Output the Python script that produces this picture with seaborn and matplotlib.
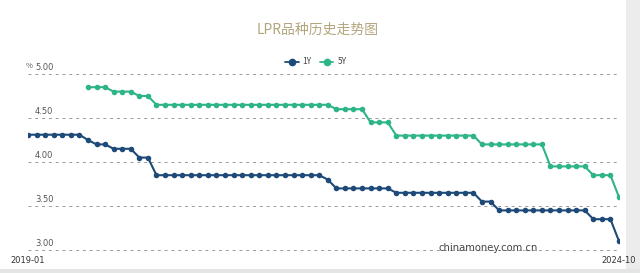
import matplotlib
matplotlib.use("Agg")
import matplotlib.pyplot as plt
import seaborn as sns
import pandas as pd
from matplotlib.patches import Rectangle
from matplotlib.lines import Line2D

sns.set_theme(style="white")
plt.rcParams['font.family'] = ['Noto Sans CJK SC', 'DejaVu Sans']

months = [f"{y}-{m:02d}" for y in range(2019, 2025) for m in range(1, 13)][:70]

lpr_1y = [4.31, 4.31, 4.31, 4.31, 4.31, 4.31, 4.31,
          4.25, 4.20, 4.20, 4.15, 4.15, 4.15, 4.05, 4.05,
          3.85, 3.85, 3.85, 3.85, 3.85, 3.85, 3.85, 3.85, 3.85, 3.85,
          3.85, 3.85, 3.85, 3.85, 3.85, 3.85, 3.85, 3.85, 3.85, 3.85,
          3.80,
          3.70, 3.70, 3.70, 3.70, 3.70, 3.70, 3.70,
          3.65, 3.65, 3.65, 3.65, 3.65, 3.65, 3.65, 3.65, 3.65, 3.65,
          3.55, 3.55,
          3.45, 3.45, 3.45, 3.45, 3.45, 3.45, 3.45, 3.45, 3.45, 3.45, 3.45,
          3.35, 3.35, 3.35,
          3.10]

lpr_5y = [None, None, None, None, None, None, None,
          4.85, 4.85, 4.85, 4.80, 4.80, 4.80, 4.75, 4.75,
          4.65, 4.65, 4.65, 4.65, 4.65, 4.65, 4.65, 4.65, 4.65, 4.65, 4.65,
          4.65, 4.65, 4.65, 4.65, 4.65, 4.65, 4.65, 4.65, 4.65, 4.65,
          4.60, 4.60, 4.60, 4.60,
          4.45, 4.45, 4.45,
          4.30, 4.30, 4.30, 4.30, 4.30, 4.30, 4.30, 4.30, 4.30, 4.30,
          4.20, 4.20, 4.20, 4.20, 4.20, 4.20, 4.20, 4.20,
          3.95, 3.95, 3.95, 3.95, 3.95,
          3.85, 3.85, 3.85,
          3.60]

series_names = ["1Y", "5Y"]
colors = {"1Y": "#1d4a78", "5Y": "#2db488"}
y_ticks = [3.00, 3.50, 4.00, 4.50, 5.00]
x_tick_labels = ["2019-01", "2024-10"]
title = "LPR品种历史走势图"

rows = []
for i, m in enumerate(months):
    rows.append({"idx": i, "month": m, "series": "1Y", "value": lpr_1y[i]})
    rows.append({"idx": i, "month": m, "series": "5Y", "value": lpr_5y[i]})
df = pd.DataFrame(rows).dropna(subset=["value"])

fig = plt.figure(figsize=(6.4, 2.73), dpi=100)
fig.patch.set_facecolor("white")
ax = fig.add_axes([28 / 640, (273 - 250) / 273, 591 / 640, (250 - 74) / 273])
ax.set_facecolor("none")

for yv in y_ticks:
    ax.axhline(yv, color="#9a9a9a", lw=0.7, ls=(0, (3, 4)), zorder=0, clip_on=False)

sns.lineplot(data=df, x="idx", y="value", hue="series", hue_order=series_names,
             palette=colors, marker="o", markersize=4.0, markeredgewidth=0,
             linewidth=1.5, ax=ax, legend=False)

ax.set_xlim(0, len(months) - 1)
ax.set_ylim(3.00, 5.00)
ax.set_yticks([])
ax.set_xticks([0, len(months) - 1])
ax.set_xticklabels(x_tick_labels, fontsize=6, color="#333333")
ax.tick_params(axis="x", length=0, pad=4)
ax.set_xlabel("")
ax.set_ylabel("")
for s in ax.spines.values():
    s.set_visible(False)
for lab in ax.get_xticklabels():
    lab.set_family(['DejaVu Sans'])

for yv in y_ticks:
    ax.text(7 / 591, yv + 0.02, f"{yv:.2f}", transform=ax.get_yaxis_transform(),
            fontsize=6, color="#555555", va="bottom", ha="left", family=['DejaVu Sans'])
fig.text(26 / 640, 1 - 66 / 273, "%", fontsize=5.5, color="#555555", ha="left", va="center")

fig.text(318 / 640, 1 - 30 / 273, title, fontsize=10, color="#b3a57c", ha="center", va="center")

handles = [Line2D([], [], color=colors[s], marker="o", markersize=4.5, lw=1.3) for s in series_names]
fig.legend(handles, series_names, loc="center", bbox_to_anchor=(316 / 640, 1 - 62 / 273),
           ncol=2, frameon=False, fontsize=6, handlelength=1.6, columnspacing=1.0,
           handletextpad=0.5, labelcolor="#444444")

fig.text(488 / 640, 1 - 248 / 273, "chinamoney.com.cn", fontsize=7.2, color="#444444",
         ha="center", va="center", family=['DejaVu Sans'])

fig.patches.append(Rectangle((626 / 640, 0), 14 / 640, 1, transform=fig.transFigure,
                             facecolor="#ececec", edgecolor="none", zorder=-1))
fig.patches.append(Rectangle((0, 0), 1, 4 / 273, transform=fig.transFigure,
                             facecolor="#e4e6e6", edgecolor="none", zorder=-1))

fig.savefig("out.png", dpi=100)
